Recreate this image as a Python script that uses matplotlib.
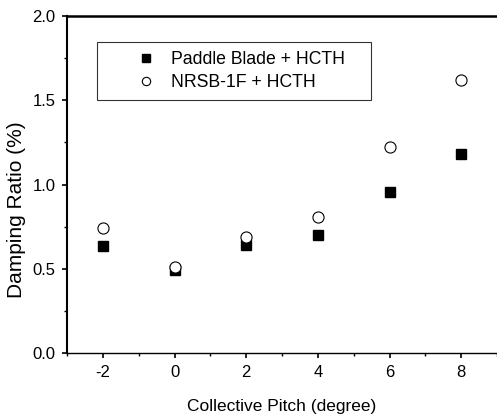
import matplotlib.pyplot as plt
from matplotlib.ticker import MultipleLocator

plt.rcParams['font.family'] = ['Liberation Sans', 'DejaVu Sans']
plt.rcParams['axes.unicode_minus'] = False

pitch = [-2, 0, 2, 4, 6, 8]
paddle_hcth = [0.635, 0.49, 0.64, 0.70, 0.955, 1.18]
nrsb_hcth = [0.745, 0.51, 0.69, 0.805, 1.22, 1.62]

fig = plt.figure(figsize=(4.97, 4.18), dpi=100)
ax = fig.add_axes([0.135, 0.1555, 0.865, 0.806])

ax.plot(pitch, paddle_hcth, 's', color='black', markersize=7,
        label='Paddle Blade + HCTH')
ax.plot(pitch, nrsb_hcth, 'o', markerfacecolor='white', markeredgecolor='black',
        markeredgewidth=0.8, markersize=8, label='NRSB-1F + HCTH')

ax.set_xlim(-3, 9)
ax.set_ylim(0, 2.0)
ax.xaxis.set_major_locator(MultipleLocator(2))
ax.xaxis.set_minor_locator(MultipleLocator(1))
ax.yaxis.set_major_locator(MultipleLocator(0.5))
ax.yaxis.set_minor_locator(MultipleLocator(0.25))
ax.yaxis.set_major_formatter(plt.FormatStrFormatter('%.1f'))

ax.tick_params(which='major', direction='out', length=3.5, width=1.2,
               labelsize=12, pad=5)
ax.tick_params(which='minor', direction='out', length=2, width=1)
ax.tick_params(top=False, right=False)

ax.spines['left'].set_linewidth(1.5)
ax.spines['top'].set_linewidth(1.8)
ax.spines['bottom'].set_linewidth(1.0)
ax.spines['right'].set_visible(False)

ax.set_xlabel('Collective Pitch (degree)', fontsize=12.5, labelpad=14)
ax.set_ylabel('Damping Ratio (%)', fontsize=15)
ax.yaxis.set_label_coords(-0.095, 0.424)

# legend box spans a fixed region; marker sits well inside the left edge
leg = ax.legend(loc='upper left', bbox_to_anchor=(0.0698, 0.7537, 0.637, 0.169),
                mode='expand', fontsize=12.7, frameon=True, fancybox=False,
                edgecolor='black', markerscale=0.75, handlelength=4.5,
                handletextpad=-0.83, borderpad=0.52, labelspacing=0.33,
                borderaxespad=0)
leg.get_frame().set_linewidth(0.8)

fig.savefig('out.png', dpi=100)
